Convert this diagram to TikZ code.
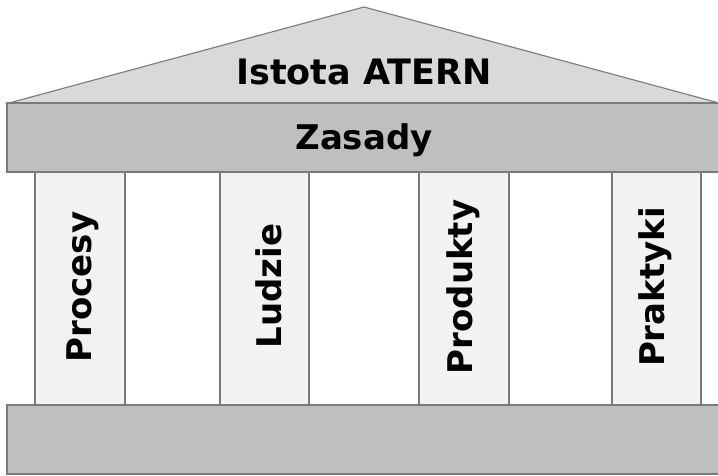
\documentclass[tikz,border=0pt]{standalone}
\usepackage{fontspec}
\setmainfont{DejaVu Sans}
\definecolor{roofgray}{HTML}{D9D9D9}
\definecolor{bandgray}{HTML}{BFBFBF}
\definecolor{colgray}{HTML}{F2F2F2}
\definecolor{edgegray}{HTML}{7A7A7A}
\tikzset{
  part/.style={draw=edgegray, line width=1.1pt},
  label/.style={font=\bfseries\fontsize{34}{40}\selectfont, inner sep=0pt, text=black},
  collabel/.style={label, rotate=90}
}
\begin{document}
\begin{tikzpicture}[x=1pt,y=-1pt]
\useasboundingbox (0,0) rectangle (718,476);
\clip (0,0) rectangle (718,476);
\fill[white] (0,0) rectangle (718,476);
% roof
\filldraw[part, fill=roofgray] (9,103) -- (364,7) -- (719,103) -- cycle;
% top band
\filldraw[part, fill=bandgray] (7,103) rectangle (722,172);
% columns
\filldraw[part, fill=colgray] (35,172) rectangle (125,405);
\filldraw[part, fill=colgray] (220,172) rectangle (309,405);
\filldraw[part, fill=colgray] (419,172) rectangle (509,405);
\filldraw[part, fill=colgray] (612,172) rectangle (701,405);
% base
\filldraw[part, fill=bandgray] (7,405) rectangle (722,474);
% texts
\node[label, font=\bfseries\fontsize{35}{40}\selectfont] (istota) at (364,72) {Istota ATERN};
\node[label] (zasady) at (364,140) {Zasady};
\node[collabel] (procesy) at (83,287) {Procesy};
\node[collabel] (ludzie) at (269,286) {Ludzie};
\node[collabel] (produkty) at (463,287) {Produkty};
\node[collabel] (praktyki) at (655,287) {Praktyki};
\end{tikzpicture}
\end{document}
